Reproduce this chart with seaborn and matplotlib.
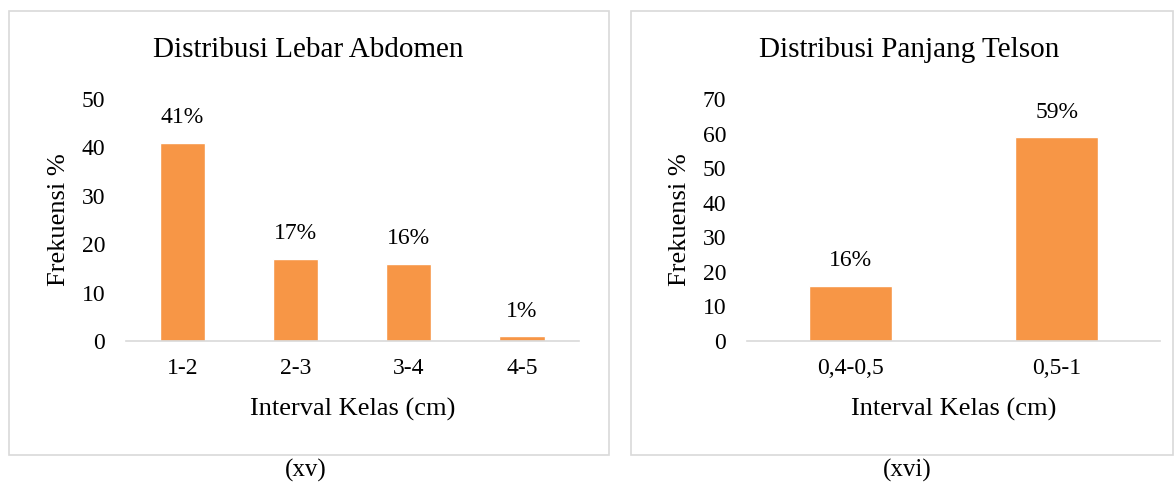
import pandas as pd
import seaborn as sns
import matplotlib.pyplot as plt
from matplotlib.patches import Rectangle

# data
abdomen_kelas = ['1-2', '2-3', '3-4', '4-5']
abdomen_frek = [41, 17, 16, 1]
telson_kelas = ['0,4-0,5', '0,5-1']
telson_frek = [16, 59]

sns.set_theme(style='white')
plt.rcParams['font.family'] = ['Liberation Serif', 'DejaVu Serif']
plt.rcParams['text.color'] = 'black'

W, H = 1175, 484
fig = plt.figure(figsize=(W / 100, H / 100), dpi=100)


def px(x, y):
    # pixel position (from top-left) -> figure fraction
    return x / W, 1 - y / H


oranye = '#F79646'
abu = '#D9D9D9'

# outer boxes of each chart
for x0, x1 in [(8.5, 608.5), (630.5, 1172.5)]:
    fig.patches.append(Rectangle(px(x0, 454.5), (x1 - x0) / W, 444 / H,
                                 transform=fig.transFigure, fill=False,
                                 edgecolor=abu, linewidth=1.2))

panel = [
    dict(kelas=abdomen_kelas, frek=abdomen_frek, rect=(126, 578.5), ymax=50,
         judul='Distribusi Lebar Abdomen', jx=308, ylx=59, cap='(xv)', cx=305.5),
    dict(kelas=telson_kelas, frek=telson_frek, rect=(747, 1160), ymax=70,
         judul='Distribusi Panjang Telson', jx=909.5, ylx=680, cap='(xvi)', cx=907),
]

for p in panel:
    l, r = p['rect']
    ax = fig.add_axes([l / W, 1 - 341 / H, (r - l) / W, 242 / H])
    df = pd.DataFrame({'kelas': p['kelas'], 'frek': p['frek']})
    sns.barplot(data=df, x='kelas', y='frek', color=oranye, width=0.4,
                saturation=1, ax=ax)
    ax.set_ylim(0, p['ymax'])
    ax.set_yticks(range(0, p['ymax'] + 1, 10))
    ax.set_xlabel('')
    ax.set_ylabel('')
    for s in ['top', 'right', 'left']:
        ax.spines[s].set_visible(False)
    ax.spines['bottom'].set_color(abu)
    ax.spines['bottom'].set_linewidth(1.2)
    ax.tick_params(axis='x', length=0, pad=12, labelsize=17, colors='black')
    ax.tick_params(axis='y', length=0, pad=15, labelsize=17, colors='black')
    for i, v in enumerate(p['frek']):
        ax.annotate(f'{v}%', (i, v), xytext=(0, 14), textcoords='offset points',
                    ha='center', va='baseline', fontsize=17, color='black')
    ax.set_facecolor('none')

    fig.text(*px(p['jx'], 50), p['judul'], ha='center', va='center', fontsize=21)
    fig.text(*px(p['ylx'], 220), 'Frekuensi %', ha='center', va='center',
             rotation=90, fontsize=19)
    fig.text(*px((l + r) / 2, 409), 'Interval Kelas (cm)', ha='center',
             va='center', fontsize=19)
    fig.text(*px(p['cx'], 470), p['cap'], ha='center', va='center', fontsize=18)

plt.savefig('out.png', dpi=100)
plt.close()
